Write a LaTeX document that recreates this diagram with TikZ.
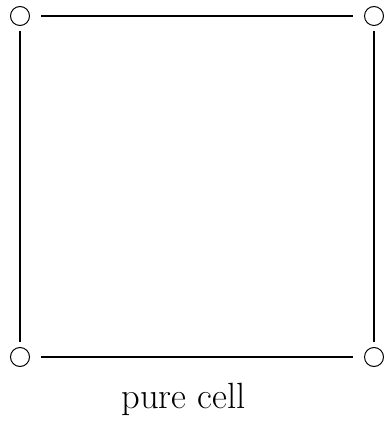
\documentclass[tikz,border=0pt]{standalone}
\begin{document}
\begin{tikzpicture}[x=1pt,y=-1pt,
  vert/.style={circle,draw,line width=1pt,minimum size=19pt,inner sep=0pt},
  edgeh/.style={line width=1.5pt,shorten <=11pt,shorten >=11pt},
  edgev/.style={line width=1.5pt,shorten <=5pt,shorten >=5pt}]
\useasboundingbox (0,0) rectangle (390,427);
\node[vert] (a) at (20,16) {};
\node[vert] (b) at (374,16) {};
\node[vert] (c) at (20,357) {};
\node[vert] (d) at (374,357) {};
\draw[edgeh] (a) -- (b);
\draw[edgeh] (c) -- (d);
\draw[edgev] (a) -- (c);
\draw[edgev] (b) -- (d);
\node[anchor=base,inner sep=0pt,font=\fontsize{36.5}{42}\selectfont] (lbl) at (183.5,408) {pure cell};
\end{tikzpicture}
\end{document}
